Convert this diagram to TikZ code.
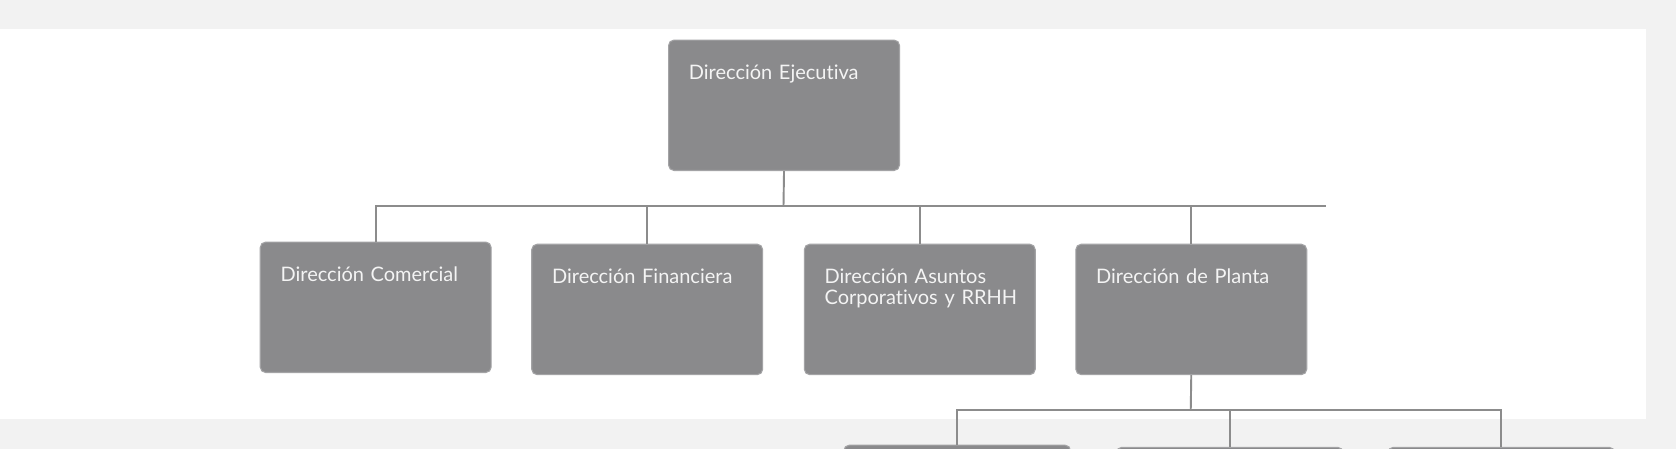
\documentclass[tikz,border=0pt]{standalone}
\usepackage{fontspec}
\setmainfont{Lato}[Ligatures=NoCommon]
\definecolor{fondo}{HTML}{F2F2F2}
\definecolor{caja}{HTML}{8A8A8C}
\definecolor{borde}{HTML}{A3A3A5}
\definecolor{linea}{HTML}{8C8C8C}
\definecolor{letra}{HTML}{F4F4F4}
\begin{document}
\begin{tikzpicture}[x=1pt, y=-1pt,
  unidad/.style={rectangle, rounded corners=5pt, draw=borde, line width=1pt, fill=caja,
    anchor=north west, text=letra, align=left, text width=178pt, inner xsep=19pt,
    inner ysep=23pt, text height=13.5pt, text depth=62.5pt,
    font=\fontsize{18.7}{20.3}\selectfont},
  subunidad/.style={unidad, text width=174pt},
  rama/.style={draw=linea, line width=1.8pt}]

\clip (0,0) rectangle (1568,420);
\fill[fondo] (0,0) rectangle (1568,420);
\fill[white] (0,27) rectangle (1540,392);

%Ejecutiva
\node[unidad] (direjecutiva) at (625,37) {Dirección Ejecutiva};

%Comercial
\node[unidad] (dircomercial) at (243,226) {Dirección Comercial};

%Financiera
\node[unidad] (dirfinanciera) at (497,228) {Dirección Financiera};

%Asuntos
\node[unidad] (dirasuntos) at (752,228) {Dirección Asuntos\\\mbox{Corporativos y RRHH}};

%Planta
\node[unidad] (dirplanta) at (1006,228) {Dirección de Planta};

%Bajo Planta
\node[subunidad] (planta1) at (789,416) {};
\node[subunidad] (planta2) at (1044,418) {};
\node[subunidad] (planta3) at (1298,418) {};

%Lineas
\coordinate (bus1) at (733,193);
\coordinate (busfin) at (1241,193);
\coordinate (bus2) at (1114,384);
\draw[rama] (direjecutiva.south) -- (bus1);
\draw[rama] (dircomercial.north) |- (busfin);
\foreach \n in {dirfinanciera,dirasuntos,dirplanta}
  \draw[rama] (\n.north) -- (\n.north |- busfin);
\draw[rama] (dirplanta.south) -- (bus2);
\draw[rama] (planta1.north) |- (bus2) -| (planta3.north);
\draw[rama] (planta2.north) -- (planta2.north |- bus2);

\end{tikzpicture}
\end{document}
